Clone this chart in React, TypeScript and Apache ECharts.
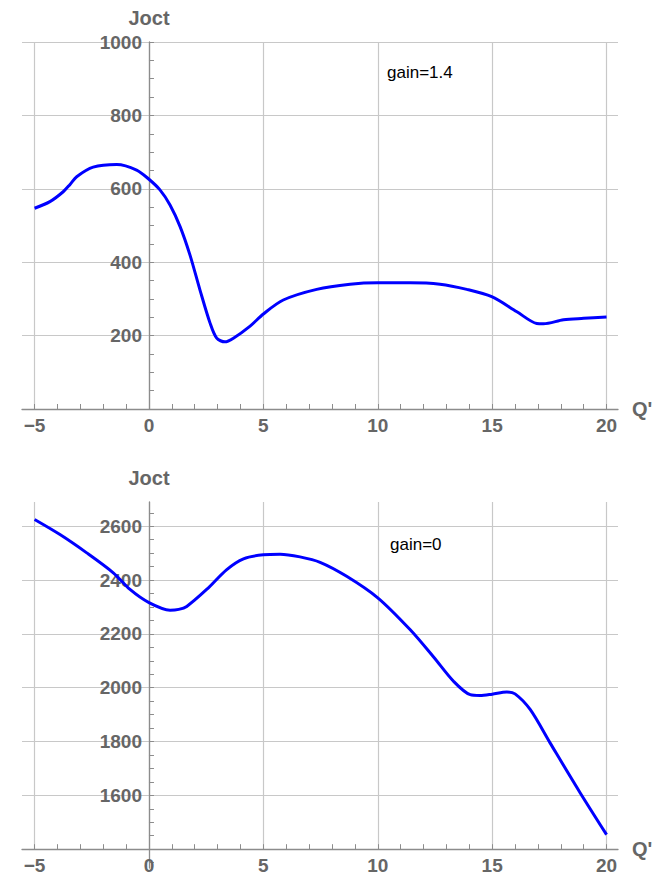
import React, { useEffect, useRef } from 'react';
import * as echarts from 'echarts';

// gain = 1.4 (top panel)
const qTop = [-5, -4.33, -3.75, -3.45, -3.16, -2.44, -1.41, -0.54, 0, 0.48, 0.92, 1.36, 1.79, 2.23, 2.67, 2.96, 3.32, 3.69, 4.42, 5, 5.87, 7.33, 8.79, 10, 11.41, 12.72, 13.89, 14.98, 16.08, 16.95, 17.24, 18.12, 19, 20];
const joctTop = [547, 565, 592, 612, 633, 659, 666, 651, 626, 597, 556, 497, 420, 324, 234, 193, 183, 193, 226, 259, 297, 326, 340, 344, 344, 340, 326, 306, 265, 233, 232, 243, 247, 251];

// gain = 0 (bottom panel)
const qBottom = [-5, -3.89, -2.72, -1.56, -0.83, 0, 0.92, 1.3, 1.65, 2.52, 3.4, 4.13, 5, 5.73, 6.6, 7.48, 8.64, 10, 11.41, 12.43, 13.31, 14.04, 14.47, 15, 15.64, 16, 16.66, 17.53, 18.85, 20];
const joctBottom = [2625, 2569, 2501, 2427, 2365, 2316, 2288, 2291, 2302, 2365, 2439, 2479, 2494, 2496, 2486, 2466, 2414, 2334, 2216, 2115, 2024, 1974, 1971, 1976, 1984, 1977, 1919, 1795, 1609, 1454];

const xLabels = [-5, 0, 5, 10, 15, 20];
const xMinorTicks = [-5, -4, -3, -2, -1, 0, 1, 2, 3, 4, 5, 6, 7, 8, 9, 10, 11, 12, 13, 14, 15, 16, 17, 18, 19, 20];
const yTopLabels = [200, 400, 600, 800, 1000];
const yTopTicks = [50, 100, 150, 200, 250, 300, 350, 400, 450, 500, 550, 600, 650, 700, 750, 800, 850, 900, 950, 1000];
const yBottomLabels = [1600, 1800, 2000, 2200, 2400, 2600];
const yBottomTicks = [1350, 1400, 1450, 1500, 1550, 1600, 1650, 1700, 1750, 1800, 1850, 1900, 1950, 2000, 2050, 2100, 2150, 2200, 2250, 2300, 2350, 2400, 2450, 2500, 2550, 2600, 2650];

const FONT = '"Liberation Sans", Arial, Helvetica, sans-serif';
const LABEL_COLOR = '#666666';
const AXIS_COLOR = '#8c8c8c';
const GRID_COLOR = '#c8c8c8';

const X_MIN = -5.55;
const X_MAX = 20.5;
const GRID_LEFT = 22;
const GRID_RIGHT = 34;
const GRID_W = 652 - GRID_LEFT - GRID_RIGHT;
// offset that moves the y axis from the grid's left edge to Q' = 0
const Y_AXIS_SHIFT = -((0 - X_MIN) / (X_MAX - X_MIN)) * GRID_W;

function xAxisCfg(gridIndex: number, offset: number) {
  return {
    type: 'value',
    gridIndex,
    min: X_MIN,
    max: X_MAX,
    z: 3,
    offset,
    axisLine: { show: true, onZero: false, lineStyle: { color: AXIS_COLOR, width: 1.3 } },
    axisTick: { show: true, inside: true, length: 5, customValues: xMinorTicks, lineStyle: { color: AXIS_COLOR } },
    axisLabel: {
      show: true,
      customValues: xLabels,
      margin: 7,
      color: LABEL_COLOR,
      fontFamily: FONT,
      fontWeight: 'bold',
      fontSize: 19,
      formatter: (v: number) => String(v).replace('-', '\u2212'),
    },
    splitLine: { show: false },
    name: "Q'",
    nameLocation: 'end',
    nameGap: 14,
    nameTextStyle: { color: LABEL_COLOR, fontFamily: FONT, fontWeight: 'bold', fontSize: 20, verticalAlign: 'middle', align: 'left' },
  };
}

function yAxisCfg(gridIndex: number, min: number, max: number, ticks: number[], labels: number[]) {
  return {
    type: 'value',
    gridIndex,
    position: 'left',
    offset: Y_AXIS_SHIFT,
    min,
    max,
    z: 3,
    axisLine: { show: true, onZero: false, lineStyle: { color: AXIS_COLOR, width: 1.3 } },
    axisTick: { show: true, inside: true, length: 5, customValues: ticks, lineStyle: { color: AXIS_COLOR } },
    axisLabel: {
      show: true,
      customValues: labels,
      margin: 7,
      color: LABEL_COLOR,
      fontFamily: FONT,
      fontWeight: 'bold',
      fontSize: 19,
      formatter: (v: number) => String(v),
    },
    splitLine: { show: false },
    name: 'Joct',
    nameLocation: 'end',
    nameGap: 24,
    nameTextStyle: { color: LABEL_COLOR, fontFamily: FONT, fontWeight: 'bold', fontSize: 20, verticalAlign: 'middle', align: 'center' },
  };
}

function gridSeries(idx: number, hVals: number[], vBottom: number, vTop: number) {
  const data: any[] = [];
  hVals.forEach((v) => data.push({ yAxis: v }));
  xLabels.forEach((x) => data.push([{ coord: [x, vBottom] }, { coord: [x, vTop] }]));
  return {
    type: 'line',
    xAxisIndex: idx,
    yAxisIndex: idx,
    data: [],
    z: 1,
    silent: true,
    markLine: {
      z: 1,
      silent: true,
      symbol: ['none', 'none'],
      animation: false,
      label: { show: false },
      lineStyle: { color: GRID_COLOR, type: 'solid', width: 1.2 },
      emphasis: { disabled: true },
      data,
    },
  };
}

function curve(idx: number, xs: number[], ys: number[]) {
  return {
    type: 'line',
    xAxisIndex: idx,
    yAxisIndex: idx,
    data: xs.map((x, i) => [x, ys[i]]),
    smooth: 0.3,
    showSymbol: false,
    symbol: 'none',
    z: 5,
    lineStyle: { color: '#0000ff', width: 3 },
    itemStyle: { color: '#0000ff' },
  };
}

export default function App() {
  const ref = useRef<HTMLDivElement>(null);
  useEffect(() => {
    if (!ref.current) return;
    const chart = echarts.init(ref.current, null, { renderer: 'svg' });
    chart.setOption({
      animation: false,
      backgroundColor: '#ffffff',
      grid: [
        { left: GRID_LEFT, right: GRID_RIGHT, top: 42, height: 367, containLabel: false, outerBoundsMode: 'none' },
        { left: GRID_LEFT, right: GRID_RIGHT, top: 502, height: 366, containLabel: false, outerBoundsMode: 'none' },
      ],
      xAxis: [xAxisCfg(0, 0), xAxisCfg(1, -18.8)],
      yAxis: [
        yAxisCfg(0, 0, 1000, yTopTicks, yTopLabels),
        yAxisCfg(1, 1330, 2690, yBottomTicks, yBottomLabels),
      ],
      series: [
        gridSeries(0, [200, 400, 600, 800, 1000], 0, 1000),
        gridSeries(1, yBottomLabels, 1400, 2690),
        curve(0, qTop, joctTop),
        curve(1, qBottom, joctBottom),
      ],
      graphic: [
        {
          type: 'text',
          x: 387,
          y: 72,
          style: { text: 'gain=1.4', fontFamily: FONT, fontSize: 17, fill: '#000000', align: 'left', verticalAlign: 'middle' },
        },
        {
          type: 'text',
          x: 390,
          y: 544,
          style: { text: 'gain=0', fontFamily: FONT, fontSize: 17, fill: '#000000', align: 'left', verticalAlign: 'middle' },
        },
      ],
    });
    return () => chart.dispose();
  }, []);
  return <div ref={ref} style={{ position: 'absolute', left: 0, top: 0, width: 652, height: 883, background: '#fff' }} />;
}
